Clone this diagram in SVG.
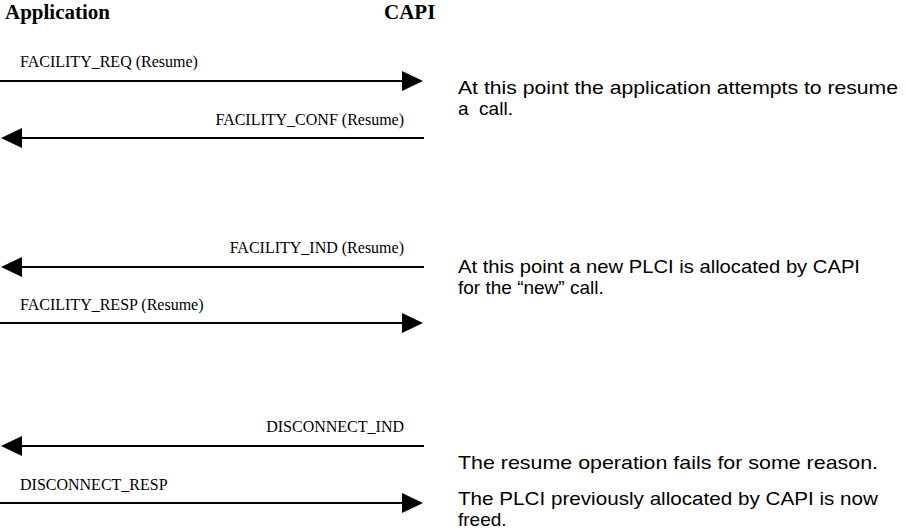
<svg xmlns="http://www.w3.org/2000/svg" width="906" height="531" viewBox="0 0 906 531">
<style>
.hdr{font-family:"Liberation Serif","Times New Roman",serif;font-weight:bold;font-size:21px;fill:#000}
.lbl{font-family:"Liberation Serif","Times New Roman",serif;font-size:16px;fill:#000}
.note{font-family:"Liberation Sans",Arial,sans-serif;font-size:19px;fill:#000;white-space:pre}
.ln{stroke:#000;stroke-width:2;fill:none}
.hd{fill:#000}
</style>
<rect width="906" height="531" fill="#fff"/>
<g id="application"><text class="hdr" x="5" y="19">Application</text></g>
<g id="capi"><text class="hdr" x="384" y="19">CAPI</text></g>
<g id="connectors">
  <g id="m1"><line class="ln" x1="0" y1="81" x2="404" y2="81"/><polygon class="hd" points="402,71 423,81 402,91"/></g>
  <g id="m2"><line class="ln" x1="20" y1="138" x2="424" y2="138"/><polygon class="hd" points="22,128 1,138 22,148"/></g>
  <g id="m3"><line class="ln" x1="20" y1="267" x2="424" y2="267"/><polygon class="hd" points="22,257 1,267 22,277"/></g>
  <g id="m4"><line class="ln" x1="0" y1="323" x2="404" y2="323"/><polygon class="hd" points="402,313 423,323 402,333"/></g>
  <g id="m5"><line class="ln" x1="20" y1="446" x2="424" y2="446"/><polygon class="hd" points="22,436 1,446 22,456"/></g>
  <g id="m6"><line class="ln" x1="0" y1="503" x2="404" y2="503"/><polygon class="hd" points="402,493 423,503 402,513"/></g>
</g>
<g id="labels">
  <text class="lbl" x="20" y="67">FACILITY_REQ (Resume)</text>
  <text class="lbl" x="404" y="125" text-anchor="end">FACILITY_CONF (Resume)</text>
  <text class="lbl" x="404" y="253" text-anchor="end">FACILITY_IND (Resume)</text>
  <text class="lbl" x="20" y="310">FACILITY_RESP (Resume)</text>
  <text class="lbl" x="404" y="432" text-anchor="end">DISCONNECT_IND</text>
  <text class="lbl" x="20" y="490">DISCONNECT_RESP</text>
</g>
<g id="notes">
  <text class="note" x="458" y="94" textLength="440" lengthAdjust="spacingAndGlyphs">At this point the application attempts to resume</text>
  <text class="note" x="458" y="115" xml:space="preserve">a  call.</text>
  <text class="note" x="458" y="273" textLength="402" lengthAdjust="spacingAndGlyphs">At this point a new PLCI is allocated by CAPI</text>
  <text class="note" x="458" y="294">for the “new” call.</text>
  <text class="note" x="458" y="469" textLength="420" lengthAdjust="spacingAndGlyphs">The resume operation fails for some reason.</text>
  <text class="note" x="458" y="505" textLength="420" lengthAdjust="spacingAndGlyphs">The PLCI previously allocated by CAPI is now</text>
  <text class="note" x="458" y="526">freed.</text>
</g>
</svg>
